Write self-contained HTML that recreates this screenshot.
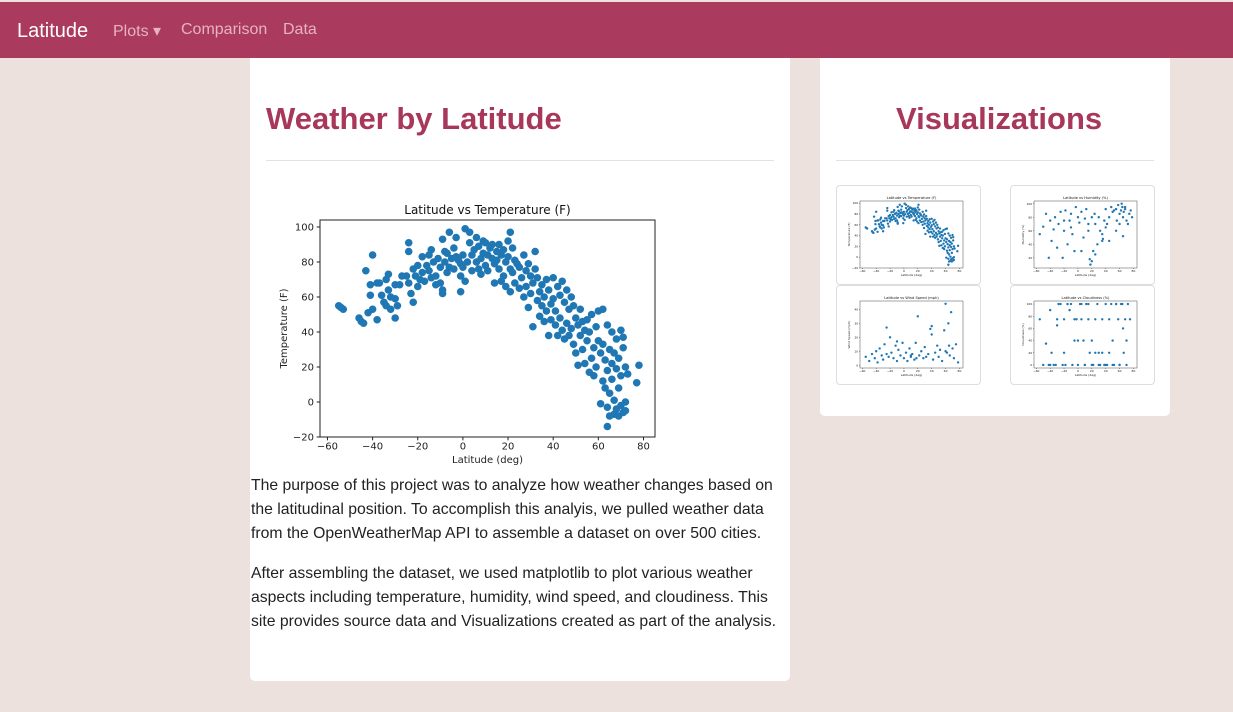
<!DOCTYPE html>
<html><head><meta charset="utf-8"><style>
body{margin:0;width:1233px;height:712px;background:#ece1dc;font-family:"Liberation Sans",sans-serif;position:relative;overflow:hidden}
.nav{position:absolute;left:0;top:2px;width:1233px;height:56px;background:#aa3a5e}
.nav span{position:absolute;top:19px;font-size:16px;color:#e6b3c3}
.card{position:absolute;background:#fff;border-radius:0 0 5px 5px}
h1{position:absolute;margin:0;font-weight:bold;font-size:31px;color:#a8385b}
.hr{position:absolute;height:1px;background:#e2e2e2}
p{position:absolute;margin:0;font-size:15.75px;line-height:24px;color:#222;width:540px}
.thumb{position:absolute;width:143px;height:98px;border:1px solid #ddd;border-radius:4px;background:#fff}
</style></head><body>
<div class="nav">
<span style="left:17px;top:18px;font-size:20px;color:#fff">Latitude</span>
<span style="left:113px">Plots ▾</span>
<span style="left:181px">Comparison</span>
<span style="left:283px">Data</span>
</div>
<div class="card" style="left:250px;top:58px;width:540px;height:623px"></div>
<h1 style="left:266px;top:101px">Weather by Latitude</h1>
<div class="hr" style="left:266px;top:160px;width:508px"></div>
<svg id="main" width="1233" height="712" style="position:absolute;left:0;top:0"></svg>
<p style="left:251px;top:474px">The purpose of this project was to analyze how weather changes based on the latitudinal position. To accomplish this analyis, we pulled weather data from the OpenWeatherMap API to assemble a dataset on over 500 cities.</p>
<p style="left:251px;top:562px">After assembling the dataset, we used matplotlib to plot various weather aspects including temperature, humidity, wind speed, and cloudiness. This site provides source data and Visualizations created as part of the analysis.</p>
<div class="card" style="left:820px;top:58px;width:350px;height:358px"></div>
<h1 style="left:896px;top:101px">Visualizations</h1>
<div class="hr" style="left:836px;top:160px;width:318px"></div>
<div class="thumb" style="left:836px;top:185px"><svg id="t1" width="143" height="98"></svg></div>
<div class="thumb" style="left:1010px;top:185px"><svg id="t2" width="143" height="98"></svg></div>
<div class="thumb" style="left:836px;top:285px"><svg id="t3" width="143" height="98"></svg></div>
<div class="thumb" style="left:1010px;top:285px"><svg id="t4" width="143" height="98"></svg></div>
<script>
const tempLat=[-55,-54,-53,-46,-45,-44,-43,-42,-41,-41,-40,-40,-38,-38,-37,-36,-35,-34,-34,-33,-33,-32,-32,-30,-30,-30,-29,-28,-27,-25,-24,-24,-24,-23,-22,-22,-21,-20,-20,-19,-18,-18,-17,-16,-15,-15,-14,-14,-13,-12,-12,-11,-10,-10,-9,-9,-9,-8,-8,-7,-7,-6,-6,-5,-4,-4,-3,-3,-2,-1,-1,-1,0,0,1,1,2,3,3,4,4,5,6,6,7,7,8,8,9,9,10,10,11,11,12,13,13,14,14,15,15,16,16,17,17,18,18,19,19,20,20,21,21,21,22,22,23,23,24,25,25,26,27,27,28,28,29,29,30,30,31,31,32,32,33,33,34,34,35,35,36,36,37,37,38,38,39,39,40,40,41,41,42,42,43,43,44,44,45,45,46,46,47,47,48,48,49,49,50,50,51,51,52,52,53,53,54,54,55,55,56,56,57,57,58,58,59,59,60,60,61,61,62,62,62,63,63,64,64,64,64,65,65,65,66,66,66,67,67,67,68,68,68,69,69,69,70,70,70,71,71,71,72,72,72,73,77,78];
const tempVal=[55,54,53,48,46,45,75,51,67,61,84,53,68,47,68,61,57,70,55,73,64,60,53,67,59,48,55,67,72,72,68,91,86,62,57,76,72,66,78,70,83,74,69,78,84,75,87,71,80,72,67,82,77,68,93,62,64,86,80,85,74,97,77,82,88,76,83,94,81,63,72,79,84,77,99,69,80,91,97,75,84,87,80,94,76,89,82,73,92,85,78,91,84,75,88,82,90,79,68,86,81,76,90,84,69,87,72,80,66,83,92,97,76,63,88,74,81,68,79,65,77,71,84,60,75,66,79,54,72,62,43,68,86,76,58,71,63,49,67,55,46,60,70,52,38,64,56,47,71,59,44,52,66,38,48,61,69,41,57,36,64,45,53,38,60,42,33,55,48,28,44,21,53,38,46,30,41,22,35,47,17,40,25,50,31,15,43,20,35,52,28,-1,12,33,53,24,8,-3,-14,44,18,30,-8,5,40,22,13,-7,1,28,36,19,-4,8,25,-8,41,15,-2,31,-6,37,20,0,-5,16,11,21];
const xTicks=[-60,-40,-20,0,20,40,60,80];
const yTicks=[-20,0,20,40,60,80,100];

const humLat=[-55,-50,-46,-42,-40,-38,-35,-33,-30,-28,-25,-22,-20,-18,-15,-12,-10,-8,-5,-3,0,2,5,8,10,12,15,17,18,20,22,24,25,28,30,32,35,36,38,40,42,45,48,50,52,55,56,58,60,62,63,64,65,66,68,70,72,74,76,78,-20,-10,5,15,20,25,35,40,45,55,60,65,68];
const humVal=[55,66,85,20,75,45,62,80,35,70,88,20,60,90,40,75,85,55,30,95,80,72,88,50,78,92,60,18,10,15,30,85,70,40,80,60,45,48,75,92,70,80,95,88,90,92,75,98,85,90,100,95,80,88,92,75,70,85,90,80,75,65,30,70,80,25,55,65,45,60,70,52,95];
const windLat=[-55,-50,-46,-42,-40,-38,-35,-32,-30,-28,-25,-22,-20,-18,-15,-12,-10,-8,-5,-2,0,3,5,8,10,12,15,17,20,22,25,28,30,32,35,38,40,42,45,48,50,52,55,58,60,62,64,66,68,70,72,75,78,-25,-10,10,18,40,60,65];
const windVal=[6,3,8,5,10,2,12,7,4,15,27,6,20,9,5,14,3,11,7,16,5,9,3,12,6,8,4,16,35,7,10,5,13,6,8,26,22,4,9,14,6,11,3,25,44,9,30,7,38,12,5,15,2,8,17,7,5,28,10,14];
const cloudLat=[-55,-50,-46,-42,-40,-38,-35,-32,-30,-28,-25,-22,-20,-18,-15,-12,-10,-8,-5,-2,0,3,5,8,10,12,15,17,20,22,25,28,30,32,35,38,40,42,45,48,50,52,55,58,60,62,64,66,68,70,72,75,-40,-20,-5,10,20,30,40,50,60,70,-30,0,15,25,45,65,-15,5,35,55];
const cloudVal=[75,0,35,0,90,20,0,0,75,100,100,0,75,0,100,90,100,0,40,75,0,100,75,40,0,100,75,20,40,0,20,100,20,0,75,0,100,0,75,100,40,0,100,75,0,100,100,20,75,40,100,75,0,20,75,0,0,0,0,0,0,0,65,40,100,75,20,60,100,100,20,100];

const NS='http://www.w3.org/2000/svg';
function mk(svg,tag,attrs,txt){const e=document.createElementNS(NS,tag);for(const k in attrs)e.setAttribute(k,attrs[k]);if(txt!==undefined)e.textContent=txt;svg.appendChild(e);return e;}
function plot(svg,box,xd,yd,xs,ys,xt,yt,r,fs,title,xl,yl){
  const X=v=>box.l+(v-xd[0])/(xd[1]-xd[0])*(box.r-box.l);
  const Y=v=>box.b-(v-yd[0])/(yd[1]-yd[0])*(box.b-box.t);
  mk(svg,'rect',{x:box.l,y:box.t,width:box.r-box.l,height:box.b-box.t,fill:'none',stroke:'#222','stroke-width':fs>5?1:0.4});
  xt.forEach(t=>{mk(svg,'line',{x1:X(t),x2:X(t),y1:box.b,y2:box.b+fs/3,stroke:'#222','stroke-width':fs>5?1:0.4});
    mk(svg,'text',{x:X(t),y:box.b+fs*1.25,'font-size':fs,'text-anchor':'middle',fill:'#222','font-family':'DejaVu Sans, sans-serif'},t<0?'\u2212'+(-t):t);});
  yt.forEach(t=>{mk(svg,'line',{x1:box.l-fs/3,x2:box.l,y1:Y(t),y2:Y(t),stroke:'#222','stroke-width':fs>5?1:0.4});
    mk(svg,'text',{x:box.l-fs*0.6,y:Y(t)+fs*0.35,'font-size':fs,'text-anchor':'end',fill:'#222','font-family':'DejaVu Sans, sans-serif'},t<0?'\u2212'+(-t):t);});
  mk(svg,'text',{x:(box.l+box.r)/2,y:box.t-fs*0.6,'font-size':fs*1.2,'text-anchor':'middle',fill:'#111','font-family':'DejaVu Sans, sans-serif'},title);
  mk(svg,'text',{x:(box.l+box.r)/2,y:box.b+fs*2.6,'font-size':fs,'text-anchor':'middle',fill:'#222','font-family':'DejaVu Sans, sans-serif'},xl);
  const cy=(box.t+box.b)/2,cx=box.l-fs*3.3;
  mk(svg,'text',{x:cx,y:cy,'font-size':fs,'text-anchor':'middle',fill:'#222',transform:`rotate(-90 ${cx} ${cy})`,'font-family':'DejaVu Sans, sans-serif'},yl);
  xs.forEach((v,i)=>{const c=mk(svg,'circle',{cx:X(v),cy:Y(ys[i]),r:r,fill:'#1f77b4'});
    
    });
}
const xd=[-63.3,85.1];
plot(document.getElementById('main'),{l:320,r:655,t:220,b:437},xd,[-20,104],tempLat,tempVal,xTicks,yTicks,3.8,10,'Latitude vs Temperature (F)','Latitude (deg)','Temperature (F)');
const tb={l:23,r:126,t:15,b:82};
plot(document.getElementById('t1'),tb,xd,[-20,104],tempLat,tempVal,xTicks,yTicks,1.2,3,'Latitude vs Temperature (F)','Latitude (deg)','Temperature (F)');
plot(document.getElementById('t2'),tb,xd,[5,104],humLat,humVal,xTicks,[20,40,60,80,100],1.2,3,'Latitude vs Humidity (%)','Latitude (deg)','Humidity (%)');
plot(document.getElementById('t3'),tb,xd,[-2,46],windLat,windVal,xTicks,[0,10,20,30,40],1.2,3,'Latitude vs Wind Speed (mph)','Latitude (deg)','Wind Speed (mph)');
plot(document.getElementById('t4'),tb,xd,[-5,105],cloudLat,cloudVal,xTicks,[0,20,40,60,80,100],1.2,3,'Latitude vs Cloudiness (%)','Latitude (deg)','Cloudiness (%)');
</script>
</body></html>
